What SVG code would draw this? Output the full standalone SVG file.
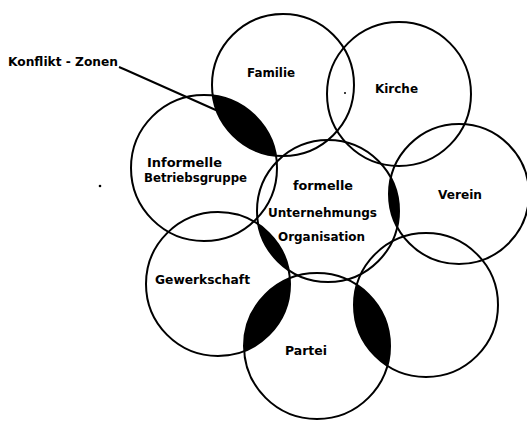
<svg xmlns="http://www.w3.org/2000/svg" width="527" height="422" viewBox="0 0 527 422">
<style>
.c{fill:none;stroke:#000;stroke-width:2}
.t{font-family:"DejaVu Sans","Liberation Sans",sans-serif;font-weight:bold;font-size:12px;fill:#000}
.z{fill:#000}
</style>
<defs>
<clipPath id="clInf"><circle cx="204" cy="168" r="73"/></clipPath>
<clipPath id="clFor"><circle cx="328" cy="211" r="71"/></clipPath>
<clipPath id="clGew"><circle cx="218" cy="284" r="72"/></clipPath>
<clipPath id="clPar"><circle cx="317" cy="346" r="73"/></clipPath>
</defs>
<g id="zones">
<circle class="z" cx="283" cy="85" r="71" clip-path="url(#clInf)"/>
<circle class="z" cx="459" cy="194" r="70" clip-path="url(#clFor)"/>
<circle class="z" cx="218" cy="284" r="72" clip-path="url(#clFor)"/>
<circle class="z" cx="218" cy="284" r="72" clip-path="url(#clPar)"/>
<circle class="z" cx="426" cy="305" r="72" clip-path="url(#clPar)"/>
</g>
<g id="familie"><circle class="c" cx="283" cy="85" r="71"/><text class="t" x="247" y="77" textLength="48" lengthAdjust="spacingAndGlyphs">Familie</text></g>
<g id="kirche"><circle class="c" cx="399" cy="94" r="72"/><text class="t" x="375" y="93" textLength="43" lengthAdjust="spacingAndGlyphs">Kirche</text></g>
<g id="verein"><circle class="c" cx="459" cy="194" r="70"/><text class="t" x="438" y="199" textLength="44" lengthAdjust="spacingAndGlyphs">Verein</text></g>
<g id="informelle"><circle class="c" cx="204" cy="168" r="73"/><text class="t" x="147" y="167" textLength="75" lengthAdjust="spacingAndGlyphs">Informelle</text><text class="t" x="144" y="182" textLength="103" lengthAdjust="spacingAndGlyphs">Betriebsgruppe</text></g>
<g id="formelle"><circle class="c" cx="328" cy="211" r="71"/><text class="t" x="293" y="190" textLength="60" lengthAdjust="spacingAndGlyphs">formelle</text><text class="t" x="268" y="217" textLength="109" lengthAdjust="spacingAndGlyphs">Unternehmungs</text><text class="t" x="278" y="241" textLength="87" lengthAdjust="spacingAndGlyphs">Organisation</text></g>
<g id="gewerkschaft"><circle class="c" cx="218" cy="284" r="72"/><text class="t" x="155" y="284" textLength="95" lengthAdjust="spacingAndGlyphs">Gewerkschaft</text></g>
<g id="partei"><circle class="c" cx="317" cy="346" r="73"/><text class="t" x="285" y="355" textLength="42" lengthAdjust="spacingAndGlyphs">Partei</text></g>
<g id="unbenannt"><circle class="c" cx="426" cy="305" r="72"/></g>
<g id="konflikt"><text class="t" x="8" y="66" textLength="110" lengthAdjust="spacingAndGlyphs">Konflikt - Zonen</text></g>
<g id="connectors"><path d="M119,67 L126,70 L218,111" fill="none" stroke="#000" stroke-width="2"/></g>
<circle cx="100" cy="186" r="1.3" fill="#000"/>
<circle cx="345" cy="93" r="1" fill="#000"/>
</svg>
